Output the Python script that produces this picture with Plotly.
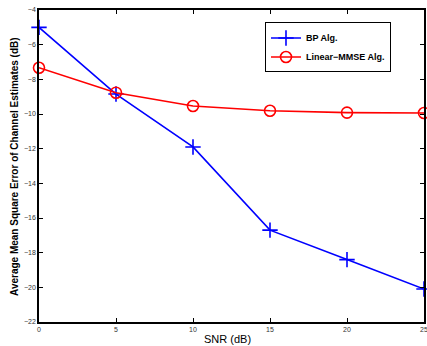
import plotly.graph_objects as go

snr = [0, 5, 10, 15, 20, 25]
bp_vals = [-5.0, -8.85, -11.9, -16.7, -18.4, -20.1]
mmse_vals = [-7.33, -8.77, -9.54, -9.81, -9.92, -9.94]
bp_name = "<b>BP Alg.</b>"
mmse_name = "<b>Linear\u2212MMSE Alg.</b>"
x_ticks = [0, 5, 10, 15, 20, 25]
y_ticks = [-22, -20, -18, -16, -14, -12, -10, -8, -6, -4]
x_title = "SNR (dB)"
y_title = "<b>Average Mean Square Error of Channel Estimates (dB)</b>"

fig = go.Figure()
fig.add_trace(go.Scatter(
    x=snr, y=bp_vals, name=bp_name, mode="lines+markers",
    line=dict(color="#0000ff", width=1.6),
    marker=dict(symbol="cross-thin", size=11, line=dict(color="#0000ff", width=1.6)),
    cliponaxis=False,
))
fig.add_trace(go.Scatter(
    x=snr, y=mmse_vals, name=mmse_name, mode="lines+markers",
    line=dict(color="#ff0000", width=1.6),
    marker=dict(symbol="circle-open", size=11, line=dict(color="#ff0000", width=1.6)),
    cliponaxis=False,
))

axis_common = dict(
    showline=True, linecolor="black", linewidth=1.5, mirror="ticks",
    ticks="inside", ticklen=4, tickcolor="black", showgrid=False, zeroline=False,
    automargin=False,
    tickfont=dict(family="Liberation Sans, Arial", size=7, color="#333"),
)
fig.update_xaxes(range=[0, 25], tickvals=x_ticks, ticktext=[str(v) for v in x_ticks],
                 ticklabeloverflow="allow", **axis_common)
fig.update_yaxes(range=[-22, -4], tickvals=y_ticks,
                 ticktext=[str(v).replace("-", "\u2212") for v in y_ticks], **axis_common)

fig.add_annotation(text=x_title, xref="paper", yref="paper", x=0.49, y=-0.028,
                   xanchor="center", yanchor="top", showarrow=False,
                   font=dict(family="Liberation Sans, Arial", size=11, color="black"))
fig.add_annotation(text=y_title, xref="paper", yref="paper", x=-0.065, y=0.5,
                   xanchor="center", yanchor="middle", textangle=-90, showarrow=False,
                   font=dict(family="Liberation Sans, Arial", size=10, color="black"))

fig.update_layout(
    width=427, height=346,
    margin=dict(l=39, r=3, t=10, b=24),
    paper_bgcolor="white", plot_bgcolor="white",
    showlegend=True,
    legend=dict(x=0.587, y=0.96, xanchor="left", yanchor="top",
                bordercolor="black", borderwidth=1, bgcolor="white",
                font=dict(family="Liberation Sans, Arial", size=9, color="black"),
                tracegroupgap=0, itemwidth=30),
)
fig.write_html("out.html", config={"displayModeBar": False},
               post_script="document.body.style.margin='0px';")
